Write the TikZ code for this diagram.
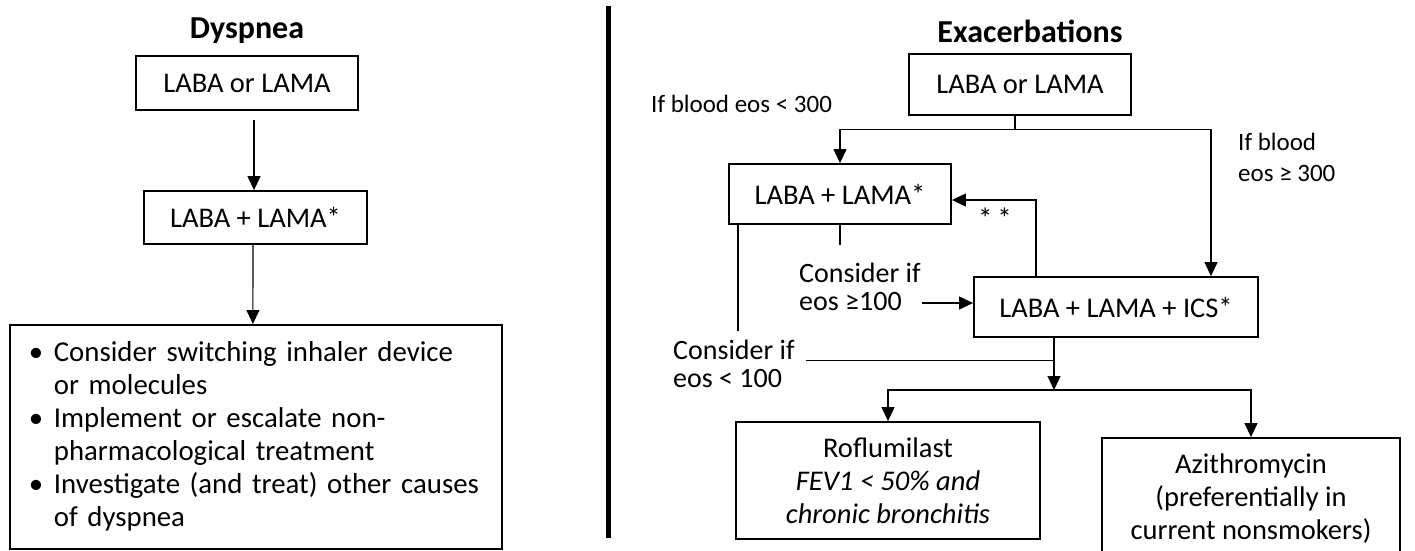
\documentclass[tikz,border=0pt]{standalone}
\usepackage{fontspec}
\setmainfont{Carlito}
\usetikzlibrary{arrows.meta,positioning}

\begin{document}
\begin{tikzpicture}[x=1pt,y=-1pt]
\tikzset{box/.style = {shape=rectangle,draw,line width=1.8pt,align=center,font=\fontsize{28.5}{33}\selectfont}}
\tikzset{edge/.style = {-{Triangle[length=14pt,width=13pt]},line width=1.1pt}}
\tikzset{link/.style = {line width=1.1pt}}
\tikzset{cond/.style = {inner sep=0pt,align=left,font=\fontsize{25}{31}\selectfont}}
\tikzset{head/.style = {font=\fontsize{32}{36}\selectfont\bfseries}}
\useasboundingbox (0,0) rectangle (1415,550);

% dyspnea
\node[head] (dtitle) at (247,31) {Dyspnea};
\node[box,minimum width=222pt,minimum height=54pt] (d1) at (247,83) {LABA or LAMA};
\node[box,minimum width=223pt,minimum height=53pt] (d2) at (255.5,217.5) {LABA + LAMA*};
\node[box,anchor=north west,align=left,text width=454pt,inner xsep=19pt,minimum height=224pt,font=\fontsize{28.8}{33}\selectfont] (d3) at (9,324) {%
\begin{tabular}{@{}l@{}l@{}}
\makebox[25pt][l]{\textbullet} & Consider switching inhaler device\\
 & or molecules\\
\textbullet & Implement or escalate non-\\
 & pharmacological treatment\\
\textbullet & Investigate (and treat) other causes\\
 & of dyspnea
\end{tabular}};

\draw[edge] ([xshift=7pt,yshift=-9pt]d1.south) -- ([xshift=-1.5pt]d2.north);
\draw[edge] ([xshift=-2.5pt]d2.south) -- ([xshift=-3pt]d3.north);

% divider
\draw[line width=5pt] (608,6) -- (608,538);

% exacerbations
\node[head] (etitle) at (1030,31) {Exacerbations};
\node[box,minimum width=222pt,minimum height=61pt] (r1) at (1020,84.5) {LABA or LAMA};
\node[box,minimum width=222pt,minimum height=60pt] (r2) at (840,194) {LABA + LAMA*};
\node[box,minimum width=284pt,minimum height=60pt] (r3) at (1116,307) {LABA + LAMA + ICS*};
\node[box,minimum width=304pt,minimum height=117pt] (r4) at (888,480.5) {Roflumilast\\\textit{FEV1 < 50\% and}\\\textit{chronic bronchitis}};
\node[box,minimum width=298pt,minimum height=122pt] (r5) at (1251,499) {Azithromycin\\(preferentially in\\current nonsmokers)};

\node[cond,anchor=west] (lt300) at (651,104) {If blood eos < 300};
\node[cond,anchor=west] (ge300) at (1238,157.5) {If blood\\eos ≥ 300};
\node[cond,anchor=west,font=\fontsize{28}{28}\selectfont] (ge100) at (799,287) {Consider if\\eos ≥100};
\node[cond,anchor=west,font=\fontsize{28}{28}\selectfont] (lt100) at (673,364) {Consider if\\eos < 100};
\node[cond,anchor=base,font=\fontsize{29}{29}\selectfont] (stars) at (995,228) {*\,*};

\draw[link] ([xshift=-5pt]r1.south) -- ++(0,14) coordinate (fork);
\draw[edge] (fork) -| (r2.north);
\draw[edge] (fork) -| ([xshift=95pt]r3.north);
\draw[edge] ([xshift=-80pt]r3.north) |- ([yshift=-6pt]r2.east);
\draw[link] (r2.south) -- ++(0,20);
\draw[link] ([xshift=-102pt]r2.south) -- ++(0,106);
\draw[edge] ([xshift=1pt,yshift=-16pt]ge100.east) -- ([yshift=-16pt]ge100.east -| r3.west);

\coordinate (join) at ([xshift=-62pt,yshift=-23pt]r3.south);
\coordinate (lt100x) at (806,0);
\coordinate (split) at (1054,390);
\draw[link] ([xshift=-62pt]r3.south) -- (join);
\draw[link] (lt100x |- join) -- (join);
\draw[edge] (join) -- (split);
\draw[edge] (split) -| (r4.north);
\draw[edge] (split) -| (r5.north);
\end{tikzpicture}
\end{document}
